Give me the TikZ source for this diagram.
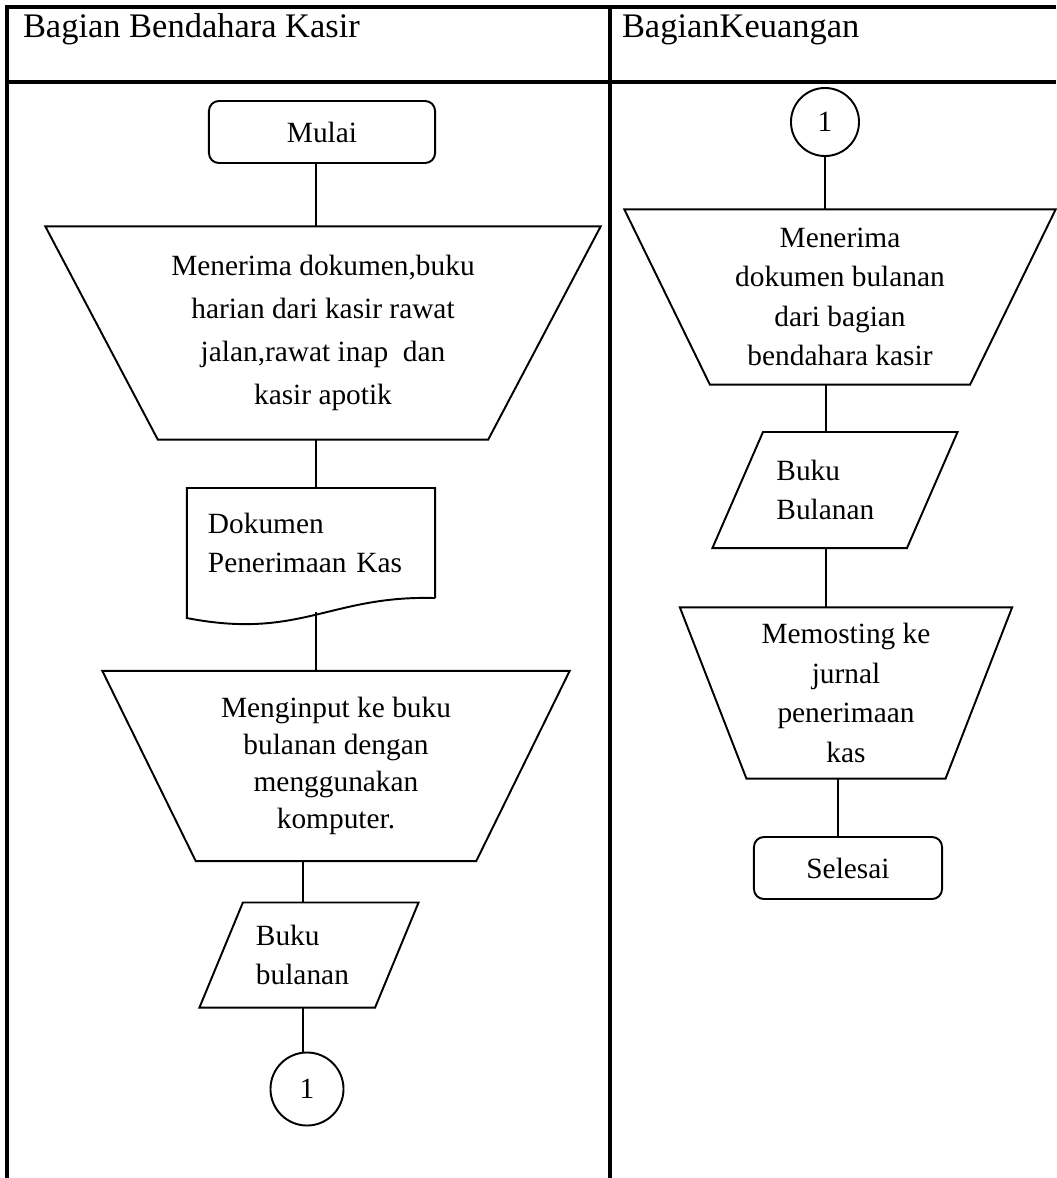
\documentclass[tikz,border=0pt]{standalone}
\usepackage{fontspec}
\setmainfont{Liberation Serif}
\usetikzlibrary{shapes.geometric}

\begin{document}
\begin{tikzpicture}[x=0.01cm, y=-0.01cm,
    inner sep=0pt, outer sep=0pt,%
    font=\fontsize{8.35pt}{11.2pt}\selectfont,
    lane/.style={line width=0.9pt},
    link/.style={line width=0.55pt},
    terminal/.style={draw, line width=0.55pt, rectangle, rounded corners=1mm,
        minimum width=#1, minimum height=0.62cm},
    manual/.style={draw, line width=0.55pt, trapezium, shape border rotate=180,
        trapezium stretches body, align=center},
    data/.style={draw, line width=0.55pt, trapezium, trapezium stretches body, align=left},
    connector/.style={draw, line width=0.55pt, circle, minimum size=#1},
    title/.style={anchor=base west, font=\fontsize{9.8pt}{11pt}\selectfont},
]
    \useasboundingbox (0,0) rectangle (1056,1178);

    % Frame
    \draw[lane] (7,1178) -- (7,7) -- (1056,7);
    \draw[lane] (7,82) -- (1056,82);
    \draw[lane] (610,7) -- (610,1178);
    \node[title] (kasir)    at (23,37)  {Bagian Bendahara Kasir};
    \node[title] (keuangan) at (622,37) {BagianKeuangan};

    % Bagian Bendahara Kasir
    \node[terminal=2.26cm] (mulai) at (322,132) {Mulai};
    \node[manual, trapezium angle=54.1, minimum width=5.55cm, minimum height=2.13cm,
        font=\fontsize{8.35pt}{12.2pt}\selectfont] (terima) at (323,333)
        {Menerima dokumen,buku\\harian dari kasir rawat\\jalan,rawat inap\ \ dan\\kasir apotik};
    \node[minimum width=2.48cm, minimum height=1.1cm, text width=2.06cm, align=left]
        (dokumen) at (311,543) {Dokumen\\Penerimaan Kas};
    \draw[link] (dokumen.south east) -- (dokumen.north east) -- (dokumen.north west)
        -- ([yshift=-2mm]dokumen.south west)
        .. controls +(113,22) and +(-105,-3) .. (dokumen.south east); % wavy bottom
    \node[manual, trapezium angle=55.8, minimum width=4.67cm, minimum height=1.9cm,
        font=\fontsize{8.35pt}{10.5pt}\selectfont] (input) at (336,766)
        {Menginput ke buku\\bulanan dengan\\menggunakan\\komputer.};
    \node[data, trapezium left angle=54.1, trapezium right angle=125.9,
        minimum width=2.19cm, minimum height=1.05cm, text width=1.06cm]
        (bukukiri) at (309,955) {Buku\\bulanan};
    \node[connector=0.73cm] (sambungkiri) at (307,1089) {1};

    \draw[link] ([xshift=-0.6mm]mulai.south) -- ([xshift=-0.7mm]terima.north);
    \draw[link] ([xshift=-0.7mm]terima.south) -- ([xshift=0.5mm]dokumen.north);
    \draw[link] ([xshift=0.5mm,yshift=-1.4mm]dokumen.south) -- ([xshift=-2mm]input.north);
    \draw[link] ([xshift=-3.3mm]input.south) -- ([xshift=-0.6mm]bukukiri.north);
    \draw[link] ([xshift=-0.6mm]bukukiri.south) -- ([xshift=-0.4mm]sambungkiri.north);

    % Bagian Keuangan
    \node[connector=0.68cm] (sambungkanan) at (825,122) {1};
    \node[manual, trapezium angle=58.2, minimum width=4.31cm, minimum height=1.75cm]
        (terimabulan) at (840,297)
        {Menerima\\dokumen bulanan\\dari bagian\\bendahara kasir};
    \node[data, trapezium left angle=49.9, trapezium right angle=130.1,
        minimum width=2.45cm, minimum height=1.16cm, text width=1.17cm]
        (bukukanan) at (835,490) {Buku\\Bulanan};
    \node[manual, trapezium angle=64.4, minimum width=3.32cm, minimum height=1.71cm]
        (memosting) at (846,693) {Memosting ke\\jurnal\\penerimaan\\kas};
    \node[terminal=1.88cm] (selesai) at (848,868) {Selesai};

    \draw[link] (sambungkanan.south) -- ([xshift=-1.5mm]terimabulan.north);
    \draw[link] ([xshift=-1.4mm]terimabulan.south) -- ([xshift=-0.9mm]bukukanan.north);
    \draw[link] ([xshift=-0.9mm]bukukanan.south) -- ([xshift=-2mm]memosting.north);
    \draw[link] ([xshift=-0.8mm]memosting.south) -- ([xshift=-1mm]selesai.north);
\end{tikzpicture}
\end{document}
